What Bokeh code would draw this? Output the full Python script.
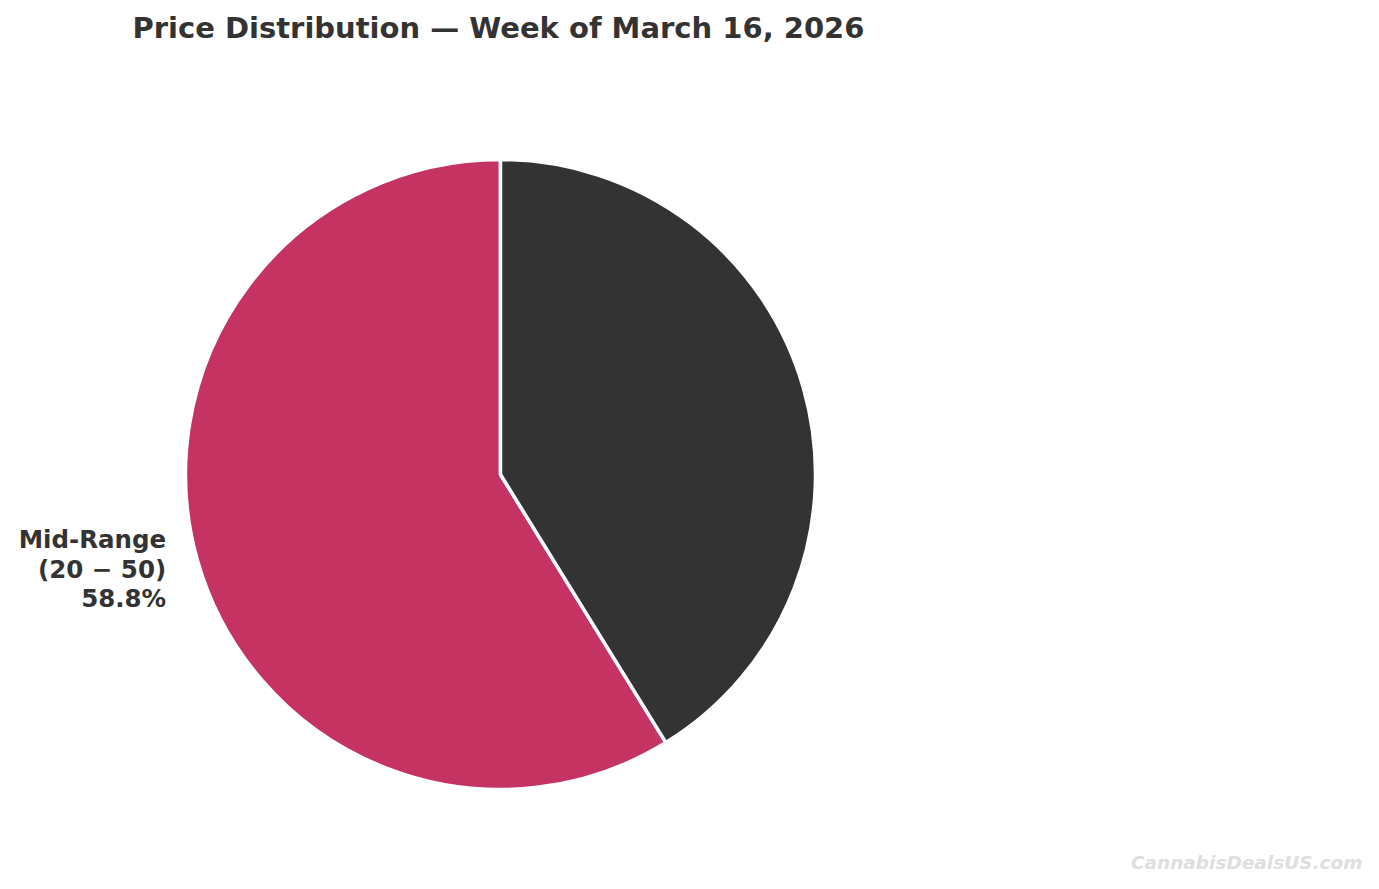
import math
from bokeh.plotting import figure
from bokeh.models import Label, ColumnDataSource, Range1d
from bokeh.core.properties import value
from bokeh.embed import file_html
from bokeh.resources import INLINE

# ---- data ----
categories = ["Mid-Range ($20-$50)", "Other"]
shares = [58.8, 41.2]
colors = ["#C43362", "#333333"]
label_lines = ["Mid-Range\n(20 − 50)\n58.8%", ""]
title_text = "Price Distribution — Week of March 16, 2026"
watermark = "CannabisDealsUS.com"

W, H = 1363, 873
R_PX = 315.0
CX, CY = 500.0, 474.0  # pie centre in px from top-left

p = figure(width=W, height=H, output_backend="svg", toolbar_location=None,
           x_range=Range1d(-CX / R_PX, (W - CX) / R_PX),
           y_range=Range1d(-(H - CY) / R_PX, CY / R_PX),
           min_border=0)
p.axis.visible = False
p.grid.visible = False
p.outline_line_color = None
p.background_fill_color = "white"
p.border_fill_color = "white"

total = sum(shares)
starts, ends, lx, ly, aligns = [], [], [], [], []
a = math.pi / 2
for s in shares:
    da = 2 * math.pi * s / total
    starts.append(a)
    ends.append(a + da)
    mid = a + da / 2
    lx.append(1.1 * math.cos(mid))
    ly.append(1.1 * math.sin(mid))
    aligns.append("right" if math.cos(mid) < 0 else "left")
    a += da

src = ColumnDataSource(dict(cat=categories, share=shares, color=colors,
                            start=starts, end=ends))
p.wedge(x=0, y=0, radius=1, start_angle="start", end_angle="end",
        fill_color="color", line_color="white", line_width=3.5, source=src)

lsrc = ColumnDataSource(dict(x=lx, y=ly, t=label_lines, align=aligns))
p.text(x="x", y="y", text="t", text_align="align", text_baseline="middle",
       text_font=value("DejaVu Sans"), text_font_style="bold",
       text_font_size="24.5px", text_color="#333333", text_line_height=1.02,
       x_offset=-1, source=lsrc)

p.add_layout(Label(x=132, y=H - 27, x_units="screen", y_units="screen",
                   text=title_text, text_font="DejaVu Sans", text_font_style="bold",
                   text_font_size="29px", text_color="#333333",
                   text_baseline="alphabetic", text_align="left"))

p.add_layout(Label(x=1362, y=11, x_units="screen", y_units="screen",
                   text=watermark, text_font="DejaVu Sans", text_font_style="bold italic",
                   text_font_size="18.5px", text_color="#dedede",
                   text_baseline="alphabetic", text_align="right"))

open("out.html", "w").write(file_html(p, INLINE))
